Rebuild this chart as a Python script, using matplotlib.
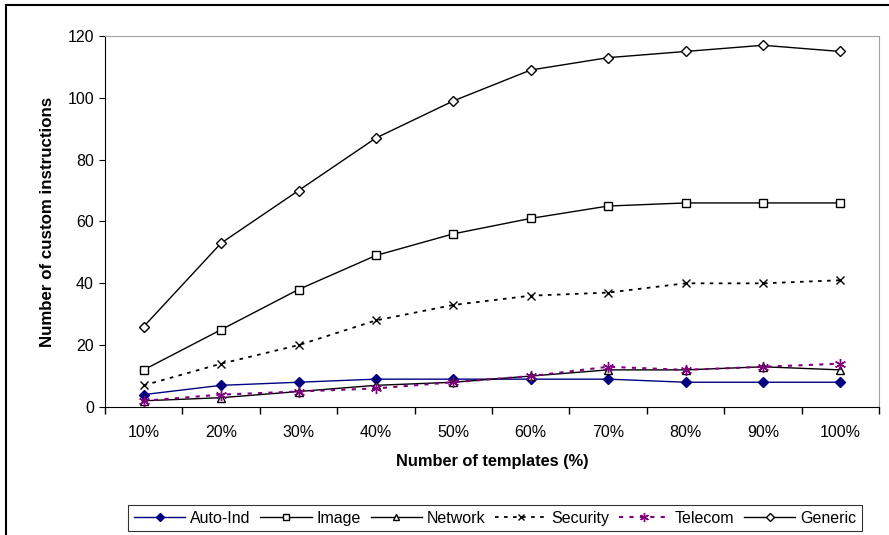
import matplotlib
matplotlib.use("Agg")
import matplotlib.pyplot as plt
from matplotlib.lines import Line2D

plt.rcParams['font.family'] = ['Liberation Sans', 'DejaVu Sans']

categories = ['10%', '20%', '30%', '40%', '50%', '60%', '70%', '80%', '90%', '100%']
auto_ind = [4, 7, 8, 9, 9, 9, 9, 8, 8, 8]
image = [12, 25, 38, 49, 56, 61, 65, 66, 66, 66]
network = [2, 3, 5, 7, 8, 10, 12, 12, 13, 12]
security = [7, 14, 20, 28, 33, 36, 37, 40, 40, 41]
telecom = [2, 4, 5, 6, 8, 10, 13, 12, 13, 14]
generic = [26, 53, 70, 87, 99, 109, 113, 115, 117, 115]

fig = plt.figure(figsize=(8.89, 5.35), dpi=100)
ax = fig.add_axes([0.1181, 0.2393, 0.8707, 0.6934])

x = list(range(len(categories)))
ax.plot(x, auto_ind, color='#000080', marker='D', ms=5, mfc='#000080', mec='#000080', lw=1, label='Auto-Ind')
ax.plot(x, image, color='black', marker='s', ms=6, mfc='white', mec='black', lw=1, label='Image')
ax.plot(x, network, color='black', marker='^', ms=6, mfc='white', mec='black', lw=1, label='Network')
ax.plot(x, security, color='black', ls=(0, (2, 3)), marker='x', ms=6, mec='black', lw=1.3, label='Security')
ax.plot(x, telecom, color='#800080', ls=(0, (2, 3)), marker=(6, 2, 0), ms=8, mec='#800080', lw=1.5, label='Telecom')
ax.plot(x, generic, color='black', marker='D', ms=5, mfc='white', mec='black', lw=1, label='Generic')

ax.set_xlim(-0.5, 9.5)
ax.set_ylim(0, 120)
ax.set_yticks(range(0, 121, 20))
ax.set_xticks(x)
ax.set_xticklabels(categories)
ax.set_xticks([i - 0.5 for i in range(11)], minor=True)
ax.tick_params(axis='x', which='major', length=0, pad=13, labelsize=11.5)
ax.tick_params(axis='x', which='minor', length=5, direction='out', width=1)
ax.tick_params(axis='y', length=4, direction='out', labelsize=11.5, pad=4)

for s in ['top', 'right']:
    ax.spines[s].set_color('#a0a0a0')
for s in ['left', 'bottom']:
    ax.spines[s].set_color('black')

ax.set_xlabel('Number of templates (%)', fontweight='bold', fontsize=11.8, labelpad=10)
ax.set_ylabel('Number of custom instructions', fontweight='bold', fontsize=12.2, labelpad=9)

leg = ax.legend(loc='lower center', bbox_to_anchor=(0.504, -0.357), ncol=6, frameon=True,
                fancybox=False, edgecolor='black', fontsize=11.5, handlelength=3.2,
                handletextpad=0.3, columnspacing=0.62, borderpad=0.35, markerscale=0.8)
leg.get_frame().set_linewidth(0.8)

# outer chart frame (top and left)
fig.add_artist(Line2D([6 / 889, 1], [1 - 5 / 535, 1 - 5 / 535], color='black', lw=1.5, transform=fig.transFigure))
fig.add_artist(Line2D([6 / 889, 6 / 889], [0, 1 - 5 / 535], color='black', lw=1.5, transform=fig.transFigure))

fig.savefig('out.png', dpi=100)
